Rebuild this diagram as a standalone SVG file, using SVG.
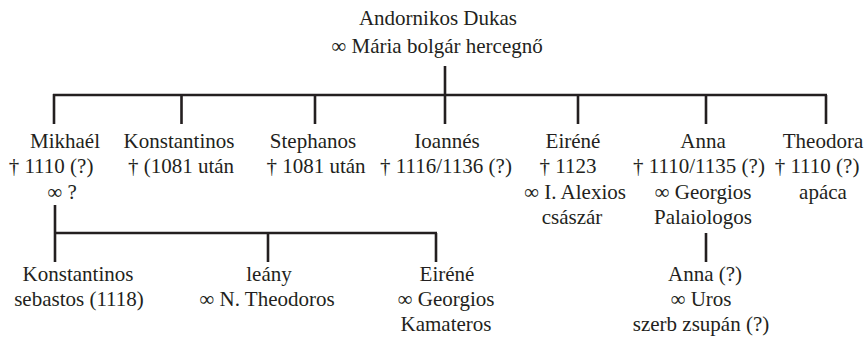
<svg xmlns="http://www.w3.org/2000/svg" width="868" height="337" viewBox="0 0 868 337">
<style>
text{font-family:"Liberation Serif","Times New Roman",serif;font-size:21px;fill:#231f20;text-anchor:middle}
.c{stroke:#231f20;stroke-width:2.6;fill:none;stroke-linecap:butt}
</style>
<rect width="868" height="337" fill="#fff"/>
<g id="connectors">
<path class="c" d="M445 66V95M53 95H827M54 94V124M181.5 95V124M315 95V124M445 95V124M578 95V124M706 95V124M826 95V124"/>
<path class="c" d="M55 205V233M53.7 233H437M55 233V262M268 233V262M436 233V262"/>
<path class="c" d="M706 233V262"/>
</g>
<g id="andronikos"><text x="438" y="25">Andornikos Dukas</text><text x="437" y="53">∞ Mária bolgár hercegnő</text></g>
<g id="mikhael"><text x="65" y="148">Mikhaél</text><text x="51" y="173">† 1110 (?)</text><text x="62" y="199">∞ ?</text></g>
<g id="konstantinos"><text x="179" y="148">Konstantinos</text><text x="181" y="173">† (1081 után</text></g>
<g id="stephanos"><text x="313" y="148">Stephanos</text><text x="316" y="173">† 1081 után</text></g>
<g id="ioannes"><text x="447" y="148">Ioannés</text><text x="446" y="173">† 1116/1136 (?)</text></g>
<g id="eirene"><text x="573" y="148">Eiréné</text><text x="568" y="173">† 1123</text><text x="575" y="199">∞ I. Alexios</text><text x="572" y="224">császár</text></g>
<g id="anna"><text x="703" y="148">Anna</text><text x="699" y="173">† 1110/1135 (?)</text><text x="703" y="199">∞ Georgios</text><text x="703" y="224">Palaiologos</text></g>
<g id="theodora"><text x="823" y="148">Theodora</text><text x="817" y="173">† 1110 (?)</text><text x="823" y="199">apáca</text></g>
<g id="konstantinos2"><text x="78" y="281">Konstantinos</text><text x="79" y="306">sebastos (1118)</text></g>
<g id="leany"><text x="269" y="281">leány</text><text x="267" y="306">∞ N. Theodoros</text></g>
<g id="eirene2"><text x="447" y="281">Eiréné</text><text x="446" y="306">∞ Georgios</text><text x="446" y="331">Kamateros</text></g>
<g id="anna2"><text x="705" y="281">Anna (?)</text><text x="701" y="306">∞ Uros</text><text x="701" y="331">szerb zsupán (?)</text></g>
</svg>
